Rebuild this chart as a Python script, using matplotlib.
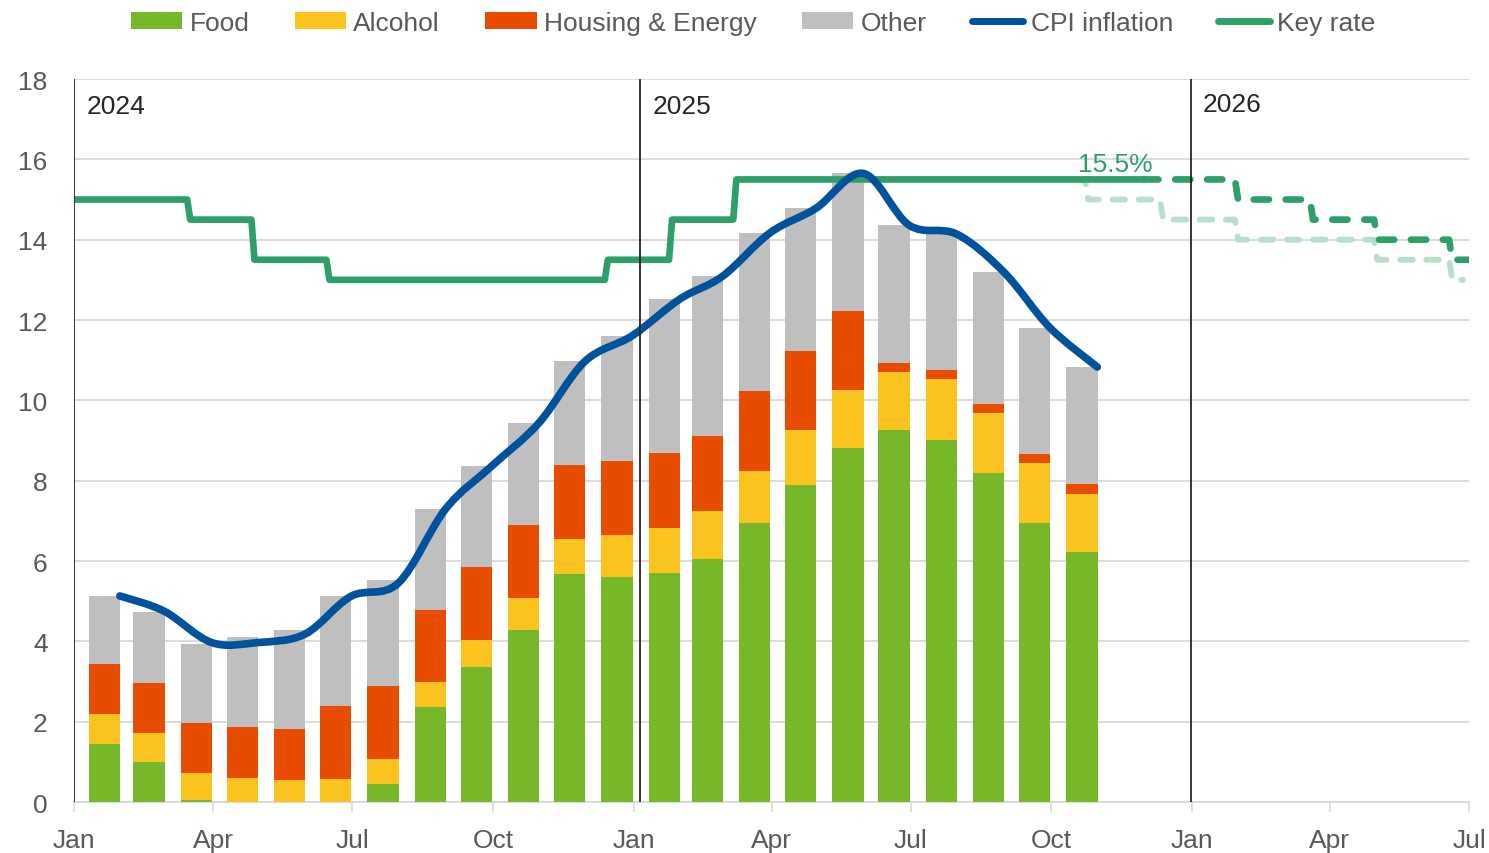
import numpy as np
import pandas as pd
import matplotlib
matplotlib.use('Agg')
import matplotlib.pyplot as plt
import matplotlib.dates as mdates
from matplotlib.patches import Patch, PathPatch
from matplotlib.lines import Line2D
from matplotlib.path import Path

plt.rcParams['font.family'] = ['Liberation Sans', 'DejaVu Sans']
plt.rcParams['lines.scale_dashes'] = False

# ---------------- data ----------------
month_ends = pd.date_range('2024-01-31', '2025-10-31', freq='ME')
food = [1.45, 1.00, 0.06, -0.05, -0.05, 0.00, 0.45, 2.37, 3.37, 4.29, 5.68, 5.61,
        5.69, 6.06, 6.95, 7.90, 8.81, 9.27, 9.02, 8.18, 6.95, 6.22]
alcohol = [0.74, 0.72, 0.65, 0.60, 0.55, 0.58, 0.61, 0.62, 0.66, 0.79, 0.88, 1.03,
           1.12, 1.18, 1.29, 1.37, 1.45, 1.43, 1.51, 1.50, 1.48, 1.45]
housing = [1.25, 1.24, 1.26, 1.27, 1.27, 1.82, 1.83, 1.80, 1.83, 1.81, 1.83, 1.85,
           1.87, 1.88, 1.99, 1.97, 1.96, 0.23, 0.22, 0.24, 0.23, 0.24]
other = [1.69, 1.77, 1.97, 2.25, 2.47, 2.73, 2.64, 2.51, 2.50, 2.55, 2.58, 3.12,
         3.84, 3.97, 3.94, 3.54, 3.43, 3.43, 3.39, 3.27, 3.15, 2.92]
cpi = [5.13, 4.75, 3.97, 3.97, 4.18, 5.12, 5.45, 7.30, 8.36, 9.44, 10.97, 11.61,
       12.52, 13.09, 14.17, 14.78, 15.65, 14.36, 14.14, 13.19, 11.81, 10.83]

key_dates = ['2024-01-01', '2024-03-15', '2024-04-26', '2024-06-14', '2024-12-13',
             '2025-01-24', '2025-03-07', '2025-11-30']
key_values = [15.0, 14.5, 13.5, 13.0, 13.5, 14.5, 15.5, 15.5]
fc_dates = ['2025-11-30', '2026-01-29', '2026-03-19', '2026-04-30', '2026-06-18', '2026-07-01']
fc_values = [15.5, 15.0, 14.5, 14.0, 13.5, 13.5]
alt_dates = ['2025-10-01', '2025-10-23', '2025-12-11', '2026-01-29', '2026-04-30',
             '2026-06-18', '2026-06-25']
alt_values = [15.5, 15.0, 14.5, 14.0, 13.5, 13.0, 13.0]

year_lines = ['2024-01-01', '2025-01-05', '2025-12-31']
year_labels = ['2024', '2025', '2026']
year_label_y = [17.33, 17.33, 17.38]

series_names = ['Food', 'Alcohol', 'Housing & Energy', 'Other']
series_colors = ['#76B82A', '#FAC31F', '#E84C00', '#BFBFBF']
cpi_color = '#00529C'
key_color = '#2E9F69'
alt_color = '#B7DFCA'
text_gray = '#595959'
grid_gray = '#D9D9D9'

# ---------------- figure ----------------
fig = plt.figure(figsize=(14.89, 8.54), dpi=100)
ax = fig.add_axes([0.0497, 0.0597, 0.93687, 0.8466])

xe = mdates.date2num(month_ends)
bar_x = xe - 10.0
bar_w = 20.5

pos_bottom = np.zeros(len(xe))
neg_bottom = np.zeros(len(xe))
for vals, col in zip([food, alcohol, housing, other], series_colors):
    v = np.array(vals, dtype=float)
    bottoms = np.where(v >= 0, pos_bottom, neg_bottom)
    ax.bar(bar_x, v, width=bar_w, bottom=bottoms, color=col, linewidth=0, zorder=3)
    pos_bottom = pos_bottom + np.where(v >= 0, v, 0)
    neg_bottom = neg_bottom + np.where(v < 0, v, 0)


def step_xy(dates, values, ramp=2.0):
    d = mdates.date2num(pd.to_datetime(dates))
    xs = [d[0]]
    ys = [values[0]]
    for i in range(1, len(d)):
        xs += [d[i], d[i] + ramp]
        ys += [values[i - 1], values[i]]
    return np.array(xs), np.array(ys)


# alternative (light) forecast
ax_, ay_ = step_xy(alt_dates, alt_values)
ax.plot(ax_, ay_, color=alt_color, lw=4.2, dashes=(9.0, 9.8), dash_capstyle='round',
        solid_joinstyle='round', zorder=4)
# main forecast
fx, fy = step_xy(fc_dates, fc_values)
ax.plot(fx, fy, color=key_color, lw=4.8, dashes=(11.0, 12.0), dash_capstyle='round',
        solid_joinstyle='round', zorder=4.5)
# actual key rate
kx, ky = step_xy(key_dates, key_values)
ax.plot(kx, ky, color=key_color, lw=4.8, solid_capstyle='butt', solid_joinstyle='round', zorder=5)

# CPI smoothed line (Catmull-Rom style, like Excel smoothing)
pts = np.column_stack([xe, np.array(cpi)])
n = len(pts)
verts = [pts[0]]
codes = [Path.MOVETO]
for i in range(n - 1):
    p0 = pts[i - 1] if i > 0 else pts[i]
    p1 = pts[i]
    p2 = pts[i + 1]
    p3 = pts[i + 2] if i + 2 < n else pts[i + 1]
    c1 = p1 + (p2 - p0) / 6.0
    c2 = p2 - (p3 - p1) / 6.0
    verts += [c1, c2, p2]
    codes += [Path.CURVE4] * 3
ax.add_patch(PathPatch(Path(verts, codes), fill=False, edgecolor=cpi_color, lw=5.5,
                       capstyle='round', joinstyle='round', zorder=6))

# year separators
for d, lab, yy in zip(year_lines, year_labels, year_label_y):
    dn = mdates.date2num(pd.Timestamp(d))
    ax.axvline(dn, color='#262626', lw=1.3, zorder=7)
    ax.annotate(lab, xy=(dn, yy), xytext=(9, 0), textcoords='offset points',
                va='center', ha='left', fontsize=19, color='#262626')

ax.text(mdates.date2num(pd.Timestamp('2025-11-12')), 15.88, '15.5%', color=key_color,
        fontsize=19, ha='center', va='center', zorder=8)

# axes styling
ax.set_xlim(mdates.date2num(pd.Timestamp('2024-01-01')), mdates.date2num(pd.Timestamp('2026-07-01')))
ax.set_ylim(0, 18)
ax.set_yticks(np.arange(0, 19, 2))
ax.xaxis.set_major_locator(mdates.MonthLocator(bymonth=[1, 4, 7, 10]))
ax.xaxis.set_major_formatter(mdates.DateFormatter('%b'))
ax.tick_params(axis='x', direction='out', length=7, width=1.1, color=grid_gray,
               labelsize=19, labelcolor=text_gray, pad=12)
ax.tick_params(axis='y', length=0, labelsize=19, labelcolor=text_gray, pad=19)
for s in ['top', 'right', 'left']:
    ax.spines[s].set_visible(False)
ax.spines['bottom'].set_color(grid_gray)
ax.spines['bottom'].set_linewidth(1.3)
ax.yaxis.grid(True, color=grid_gray, lw=1.3)
ax.set_axisbelow(True)

# legend
handles = [Patch(facecolor=c, edgecolor='none') for c in series_colors]
handles += [Line2D([0], [0], color=cpi_color, lw=5, solid_capstyle='round'),
            Line2D([0], [0], color=key_color, lw=5, solid_capstyle='round')]
labels = series_names + ['CPI inflation', 'Key rate']
fig.legend(handles, labels, loc='center', bbox_to_anchor=(0.5057, 0.972), ncol=6,
           frameon=False, fontsize=19, labelcolor=text_gray, handlelength=1.95,
           handleheight=0.62, handletextpad=0.27, columnspacing=1.72, borderpad=0)

fig.savefig('out.png', dpi=100)
